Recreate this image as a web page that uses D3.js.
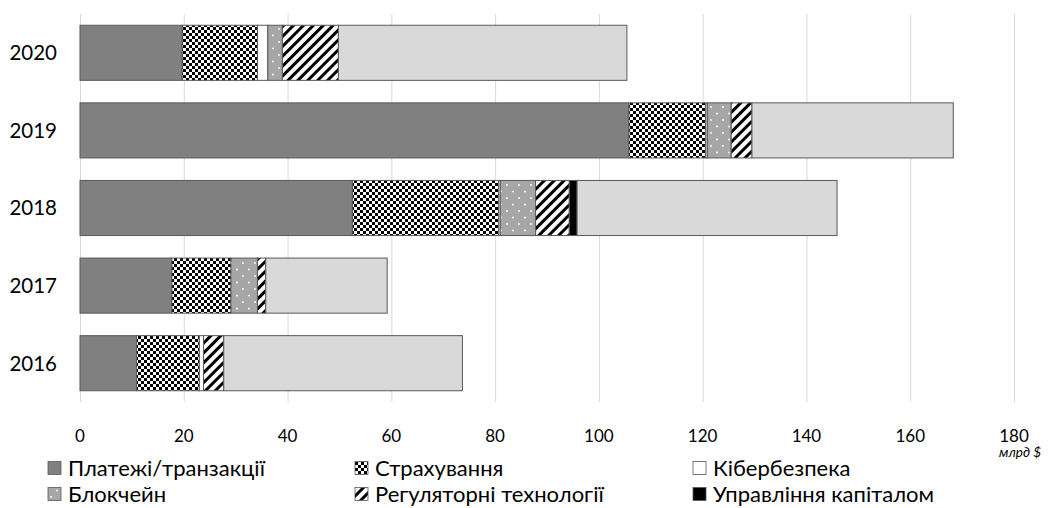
<!DOCTYPE html>
<html><head><meta charset="utf-8">
<script src="https://cdn.jsdelivr.net/npm/d3@7"></script>
<style>body{margin:0;background:#fff;} text{font-family:Lato, "Open Sans", sans-serif;}</style>
</head><body>
<svg id="chart" width="1054" height="508"></svg>
<script>
const years = ["2016","2017","2018","2019","2020"];
const seriesNames = ["Платежі/транзакції","Страхування","Кібербезпека","Блокчейн","Регуляторні технології","Управління капіталом","Інше"];
const payments  = [10.9, 17.7, 52.5, 105.8, 19.7];
const insurance = [12.1, 11.4, 28.2, 14.8, 14.5];
const cyber     = [0.8, 0, 0.3, 0.3, 2.0];
const blockchain= [0, 5.1, 6.8, 4.6, 2.8];
const regtech   = [3.9, 1.6, 6.5, 4.0, 10.8];
const wealth    = [0, 0, 1.5, 0, 0];
const other     = [46.0, 23.4, 50.1, 38.8, 55.6];
const xTicks = [0,20,40,60,80,100,120,140,160,180];
const axisUnit = "млрд $";

const seriesVals = [payments, insurance, cyber, blockchain, regtech, wealth, other];
const fills = ["#808080","url(#pChk)","#ffffff","url(#pDot)","url(#pDiag)","#000000","#d9d9d9"];

const svg = d3.select("#chart");
const defs = svg.append("defs");
// checkerboard
let p = defs.append("pattern").attr("id","pChk").attr("patternUnits","userSpaceOnUse").attr("width",6).attr("height",6);
p.append("rect").attr("width",6).attr("height",6).attr("fill","#fff");
p.append("rect").attr("x",0).attr("y",0).attr("width",3).attr("height",3).attr("fill","#000");
p.append("rect").attr("x",3).attr("y",3).attr("width",3).attr("height",3).attr("fill","#000");
// dots
p = defs.append("pattern").attr("id","pDot").attr("patternUnits","userSpaceOnUse").attr("width",12).attr("height",13);
p.append("rect").attr("width",12).attr("height",13).attr("fill","#a6a6a6");
p.append("circle").attr("cx",3).attr("cy",3).attr("r",0.9).attr("fill","#fff");
p.append("circle").attr("cx",9).attr("cy",9.5).attr("r",0.9).attr("fill","#fff");
// diagonal
p = defs.append("pattern").attr("id","pDiag").attr("patternUnits","userSpaceOnUse").attr("width",7).attr("height",7).attr("patternTransform","rotate(45)");
p.append("rect").attr("width",7).attr("height",7).attr("fill","#fff");
p.append("rect").attr("width",3).attr("height",7).attr("fill","#000");

const x = d3.scaleLinear().domain([0,180]).range([80,1014]);
const y = d3.scaleBand().domain(years.slice().reverse()).range([14,402]).paddingInner(0.29).paddingOuter(0.145);

// gridlines
svg.append("g").selectAll("line").data(xTicks).join("line")
  .attr("x1",d=>x(d)+0.5).attr("x2",d=>x(d)+0.5).attr("y1",14).attr("y2",402)
  .attr("stroke","#d9d9d9").attr("stroke-width",1);

// stacked
const rows = years.map((yr,i)=>{const o={year:yr}; seriesNames.forEach((s,j)=>o[s]=seriesVals[j][i]); return o;});
const stack = d3.stack().keys(seriesNames)(rows);
stack.forEach((layer,j)=>{
  svg.append("g").selectAll("rect").data(layer.filter(d=>d[1]-d[0]>0)).join("rect")
    .attr("x",d=>x(d[0])).attr("width",d=>x(d[1])-x(d[0]))
    .attr("y",d=>y(d.data.year)).attr("height",y.bandwidth())
    .attr("fill",fills[j]).attr("stroke","#595959").attr("stroke-width",1);
});

// year labels
svg.append("g").selectAll("text").data(years).join("text")
  .attr("x",57).attr("y",d=>y(d)+y.bandwidth()/2).attr("dy","0.36em")
  .attr("text-anchor","end").attr("font-size",20.5).attr("fill","#000").text(d=>d);

// x ticks
svg.append("g").selectAll("text").data(xTicks).join("text")
  .attr("x",d=>x(d)).attr("y",442).attr("text-anchor","middle").attr("font-size",17).attr("fill","#000").text(d=>d);
svg.append("text").attr("x",1041).attr("y",457).attr("text-anchor","end").attr("font-size",13.5)
  .attr("font-style","italic").attr("fill","#000").text(axisUnit);

// legend
const legendItems = [0,1,2,3,4,5];
const legX = [48,355,693];
const legY = [468,494];
const lg = svg.append("g").selectAll("g").data(legendItems).join("g")
  .attr("transform",(d,i)=>`translate(${legX[i%3]},${legY[Math.floor(i/3)]})`);
lg.append("rect").attr("x",0).attr("y",-6.5).attr("width",13).attr("height",13)
  .attr("fill",d=>fills[d]).attr("stroke","#595959").attr("stroke-width",0.8);
lg.append("text").attr("x",20).attr("y",0).attr("dy","0.36em").attr("font-size",22).attr("fill","#000").text(d=>seriesNames[d]);
</script>
</body></html>
